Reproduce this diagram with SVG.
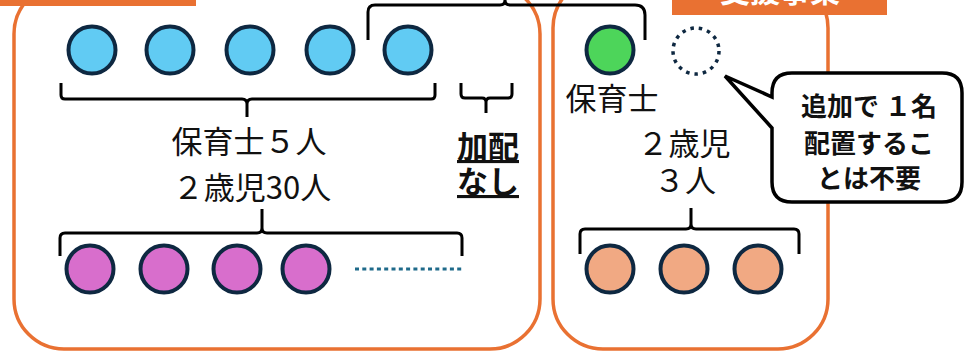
<svg xmlns="http://www.w3.org/2000/svg" width="966" height="352" viewBox="0 0 966 352">
<style>
.box{fill:none;stroke:#E97132;stroke-width:3.5}
.banner{fill:#E97132}
.ring{stroke:#0E2841;stroke-width:4}
.staff{fill:#61CBF3}
.pink{fill:#D86ECC}
.green{fill:#4DD55A}
.peach{fill:#F1A983}
.brace{fill:none;stroke:#000;stroke-width:3;stroke-linejoin:round}
.t{font-family:"Noto Sans CJK JP","Noto Sans CJK SC",sans-serif;font-size:31px;fill:#111;text-anchor:middle}
.bold{font-weight:bold}
.bt{font-size:26px}
</style>
<rect width="966" height="352" fill="#fff"/>

<g id="left-box">
  <rect class="box" x="14" y="-16" width="526" height="365" rx="50"/>
  <rect class="banner" x="0" y="-20" width="196" height="26"/>
</g>
<g id="right-box">
  <rect class="box" x="553" y="-22" width="275" height="371" rx="50"/>
  <rect class="banner" x="672" y="-20" width="215" height="35"/>
  <text class="t bold" x="780" y="2" style="fill:#fff;font-size:30px">支援事業</text>
</g>

<g id="staff-left">
  <circle class="ring staff" cx="92" cy="50" r="23.5"/>
  <circle class="ring staff" cx="170" cy="50" r="23.5"/>
  <circle class="ring staff" cx="250" cy="50" r="23.5"/>
  <circle class="ring staff" cx="330" cy="50" r="23.5"/>
  <circle class="ring staff" cx="408" cy="50" r="23.5"/>
</g>

<g id="children-left">
  <circle class="ring pink" cx="90" cy="269" r="23.5"/>
  <circle class="ring pink" cx="164" cy="269" r="23.5"/>
  <circle class="ring pink" cx="237" cy="269" r="23.5"/>
  <circle class="ring pink" cx="306" cy="269" r="23.5"/>
  <line x1="355" y1="269" x2="462" y2="269" stroke="#1F6A8A" stroke-width="3" stroke-dasharray="4 3.3"/>
</g>

<g id="label-left">
  <text class="t" x="249" y="153">保育士５人</text>
  <text class="t" x="252" y="199">２歳児30人</text>
</g>

<g id="label-none">
  <text class="t bold" x="488" y="158" text-decoration="underline">加配</text>
  <text class="t bold" x="488" y="193" text-decoration="underline">なし</text>
</g>

<g id="staff-right">
  <circle class="ring green" cx="610" cy="50" r="23.5"/>
  <circle cx="696" cy="51" r="23" fill="none" stroke="#0E2841" stroke-width="3.5" stroke-dasharray="3.5 5"/>
  <text class="t" x="612" y="110">保育士</text>
</g>

<g id="children-right">
  <text class="t" x="684" y="155">２歳児</text>
  <text class="t" x="685" y="192">３人</text>
  <circle class="ring peach" cx="610" cy="269" r="23.5"/>
  <circle class="ring peach" cx="684" cy="269" r="23.5"/>
  <circle class="ring peach" cx="758" cy="269" r="23.5"/>
</g>

<g id="callout">
  <path d="M725,76 L772,97 L772,93 Q772,73 792,73 L942,73 Q962,73 962,93 L962,182 Q962,202 942,202 L792,202 Q772,202 772,182 L772,128 Z" fill="#fff" stroke="#000" stroke-width="3.5" stroke-linejoin="miter"/>
  <text class="t bold bt" x="869" y="116">追加で １名</text>
  <text class="t bold bt" x="869" y="153">配置するこ</text>
  <text class="t bold bt" x="869" y="188">とは不要</text>
</g>

<g id="connectors">
  <path class="brace" d="M61,83 V95 Q61,99 65,99 H242 Q247,99 247,104 V117 M247,104 Q247,99 252,99 H431 Q435,99 435,95 V83"/>
  <path class="brace" d="M368,40 V12 Q368,5 375,5 H500 Q505,5 505,0 V-3 M505,0 Q505,5 510,5 H635 Q645,5 645,15 V40"/>
  <path class="brace" d="M461,83 V94 Q461,98 465,98 H482 Q486,98 486,102 V113 M486,102 Q486,98 490,98 H508 Q512,98 512,94 V83"/>
  <path class="brace" d="M60,256 V238 Q60,233 65,233 H257 Q262,233 262,228 V209 M262,228 Q262,233 267,233 H457 Q462,233 462,238 V256"/>
  <path class="brace" d="M580,254 V234 Q580,229 585,229 H686 Q691,229 691,224 V208 M691,224 Q691,229 696,229 H794 Q799,229 799,234 V254"/>
</g>
</svg>
